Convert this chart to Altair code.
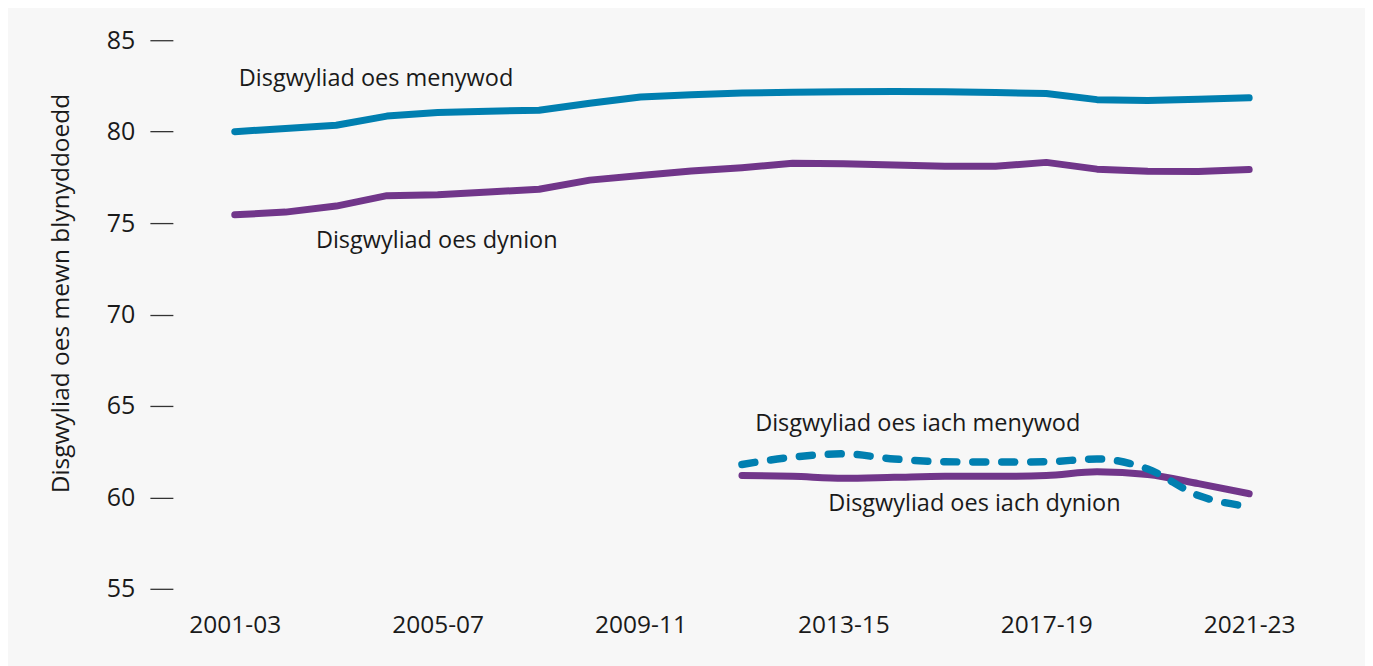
import altair as alt
import pandas as pd

periods = ["2001-03", "2002-04", "2003-05", "2004-06", "2005-07", "2006-08", "2007-09",
           "2008-10", "2009-11", "2010-12", "2011-13", "2012-14", "2013-15", "2014-16",
           "2015-17", "2016-18", "2017-19", "2018-20", "2019-21", "2020-22", "2021-23"]

women_le = [80.0, 80.17, 80.35, 80.85, 81.05, 81.12, 81.17, 81.55, 81.9, 82.02, 82.12,
            82.15, 82.18, 82.2, 82.18, 82.14, 82.09, 81.75, 81.7, 81.77, 81.85]
men_le = [75.45, 75.6, 75.93, 76.5, 76.55, 76.7, 76.85, 77.35, 77.6, 77.85, 78.03,
          78.27, 78.24, 78.17, 78.11, 78.11, 78.32, 77.95, 77.84, 77.82, 77.93]

hle_periods = periods[10:]
women_hle = [61.8, 62.2, 62.38, 62.1, 61.95, 61.93, 61.95, 62.1, 61.55, 60.1, 59.5]
men_hle = [61.2, 61.15, 61.05, 61.1, 61.15, 61.15, 61.2, 61.4, 61.25, 60.75, 60.2]

label_text = ["Disgwyliad oes menywod", "Disgwyliad oes dynion",
              "Disgwyliad oes iach menywod", "Disgwyliad oes iach dynion"]
label_pos = [0.08, 1.6, 10.26, 11.7]
label_val = [82.49, 73.63, 63.65, 59.26]

BLUE = "#007fb0"
PURPLE = "#71368a"
FONT = "Open Sans"
TXT = "#1a1a1a"

idx = {p: i for i, p in enumerate(periods)}

main_df = pd.DataFrame(
    [{"series": "Menywod", "idx": idx[p], "value": v} for p, v in zip(periods, women_le)]
    + [{"series": "Dynion", "idx": idx[p], "value": v} for p, v in zip(periods, men_le)]
)
wh_df = pd.DataFrame({"idx": [idx[p] for p in hle_periods], "value": women_hle})
mh_df = pd.DataFrame({"idx": [idx[p] for p in hle_periods], "value": men_hle})
lab_df = pd.DataFrame({"text": label_text, "idx": label_pos, "value": label_val})

label_expr = "[" + ",".join("'" + p + "'" for p in periods) + "][datum.value]"

x_enc = alt.X(
    "idx:Q",
    scale=alt.Scale(domain=[-1.22, 21.22], nice=False, zero=False),
    axis=alt.Axis(values=[0, 4, 8, 12, 16, 20], labelExpr=label_expr, ticks=False,
                  domain=False, grid=False, labelPadding=25, labelFontSize=24.5,
                  labelFont=FONT, labelColor=TXT, title=None),
)
y_enc = alt.Y(
    "value:Q",
    scale=alt.Scale(domain=[55, 85], nice=False, zero=False),
    axis=alt.Axis(values=[55, 60, 65, 70, 75, 80, 85], tickSize=23, tickColor="#333333",
                  tickWidth=1.3, domain=False, grid=False, labelPadding=15,
                  labelFontSize=25, labelFont=FONT, labelColor=TXT,
                  title="Disgwyliad oes mewn blynyddoedd", titleFont=FONT,
                  titleFontSize=24.5, titleFontWeight="normal", titleColor=TXT,
                  titleX=-111, titleY=253, titleAngle=-90, titleAlign="center",
                  titleBaseline="middle"),
)

main = alt.Chart(main_df).mark_line(strokeWidth=7, strokeCap="round", strokeJoin="round").encode(
    x=x_enc, y=y_enc,
    color=alt.Color("series:N", scale=alt.Scale(domain=["Menywod", "Dynion"], range=[BLUE, PURPLE]),
                    legend=None),
)
men_h = alt.Chart(mh_df).mark_line(strokeWidth=7, strokeCap="round", strokeJoin="round",
                                   interpolate="monotone", color=PURPLE).encode(x="idx:Q", y="value:Q")
women_h = alt.Chart(wh_df).mark_line(strokeWidth=7.5, strokeCap="round", strokeJoin="round",
                                     interpolate="monotone", color=BLUE,
                                     strokeDash=[13, 16]).encode(x="idx:Q", y="value:Q")
labels = alt.Chart(lab_df).mark_text(align="left", baseline="alphabetic", fontSize=23.5,
                                     font=FONT, color=TXT).encode(
    x="idx:Q", y="value:Q", text="text:N")

chart = alt.layer(main, men_h, women_h, labels).properties(
    width=1139, height=549,
    autosize=alt.AutoSizeParams(type="none"),
    padding={"left": 165, "top": 32, "right": 54, "bottom": 77},
    background="#f7f7f7",
).configure_view(stroke=None)

chart.save("out.html", embed_options={"renderer": "svg", "actions": False})
